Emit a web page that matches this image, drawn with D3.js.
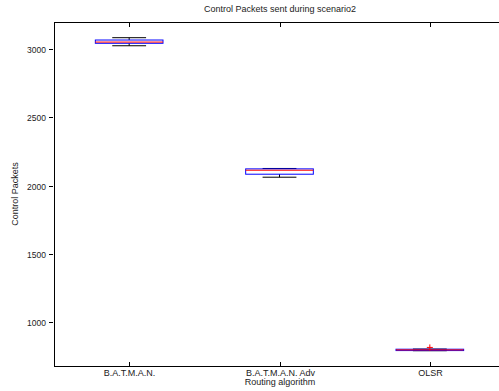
<!DOCTYPE html>
<html>
<head>
<meta charset="utf-8">
<script src="https://cdn.jsdelivr.net/npm/d3@7"></script>
<style>
  html, body { margin: 0; padding: 0; background: #fff; }
  svg { display: block; font-family: "Liberation Sans", Arial, Helvetica, sans-serif; }
</style>
</head>
<body>
<svg id="chart" width="499" height="391"></svg>
<script>
// Routing algorithms compared
const categories = ["B.A.T.M.A.N.", "B.A.T.M.A.N. Adv", "OLSR"];
// Box statistics per algorithm (control packets)
const lowerWhisker = [3024, 2061, 790];
const quartile1    = [3042, 2083, 791];
const medians      = [3051, 2112, 796];
const quartile3    = [3066, 2122, 801];
const upperWhisker = [3083, 2125, 802];
// Outliers: [algorithm index, value]
const outliers = [[2, 814]];
const yTicks = [1000, 1500, 2000, 2500, 3000];

const svg = d3.select("#chart");
const plotLeft = 54, plotRight = 505, plotTop = 22, plotBottom = 366;

const x = d3.scaleLinear().domain([0.5, 3.5]).range([plotLeft, plotRight]);
const y = d3.scaleLinear().domain([678, 3198]).range([plotBottom, plotTop]);

const boxHalf = 0.225, capHalf = 0.1125;

// Frame
svg.append("line").attr("x1", plotLeft).attr("x2", plotRight).attr("y1", plotTop + 0.5).attr("y2", plotTop + 0.5).attr("stroke", "#000");
svg.append("line").attr("x1", plotLeft).attr("x2", plotRight).attr("y1", plotBottom + 0.5).attr("y2", plotBottom + 0.5).attr("stroke", "#000");
svg.append("line").attr("x1", plotLeft + 0.5).attr("x2", plotLeft + 0.5).attr("y1", plotTop).attr("y2", plotBottom + 1).attr("stroke", "#000");

// Y axis ticks and labels
const yAxis = svg.append("g");
yTicks.forEach(t => {
  const py = Math.round(y(t)) + 0.5;
  yAxis.append("line").attr("x1", plotLeft - 5).attr("x2", plotLeft - 1).attr("y1", py).attr("y2", py).attr("stroke", "#000");
  yAxis.append("text").attr("x", plotLeft - 8).attr("y", py + 3).attr("text-anchor", "end")
    .attr("font-size", 8.5).attr("fill", "#222").text(t);
});

// X ticks (bottom and top, pointing inward) and labels
const xAxis = svg.append("g");
categories.forEach((c, i) => {
  const px = Math.round(x(i + 1)) + 0.5;
  xAxis.append("line").attr("x1", px).attr("x2", px).attr("y1", plotBottom).attr("y2", plotBottom - 4).attr("stroke", "#000");
  xAxis.append("line").attr("x1", px).attr("x2", px).attr("y1", plotTop + 1).attr("y2", plotTop + 5).attr("stroke", "#000");
  xAxis.append("text").attr("x", px).attr("y", plotBottom + 10).attr("text-anchor", "middle")
    .attr("font-size", 9).attr("fill", "#222").text(c);
});

// Boxes
const boxes = svg.append("g");
categories.forEach((c, i) => {
  const cx = x(i + 1);
  // whisker stems (dashed)
  boxes.append("line").attr("x1", cx).attr("x2", cx).attr("y1", y(quartile3[i])).attr("y2", y(upperWhisker[i]))
    .attr("stroke", "#000").attr("stroke-dasharray", "3,2");
  boxes.append("line").attr("x1", cx).attr("x2", cx).attr("y1", y(quartile1[i])).attr("y2", y(lowerWhisker[i]))
    .attr("stroke", "#000").attr("stroke-dasharray", "3,2");
  // whisker caps
  [upperWhisker[i], lowerWhisker[i]].forEach(v => {
    boxes.append("line").attr("x1", x(i + 1 - capHalf)).attr("x2", x(i + 1 + capHalf))
      .attr("y1", y(v)).attr("y2", y(v)).attr("stroke", "#000");
  });
  // box
  boxes.append("rect").attr("x", x(i + 1 - boxHalf)).attr("width", x(i + 1 + boxHalf) - x(i + 1 - boxHalf))
    .attr("y", y(quartile3[i])).attr("height", Math.max(0.1, y(quartile1[i]) - y(quartile3[i])))
    .attr("fill", "none").attr("stroke", "#0000ff");
  // median
  boxes.append("line").attr("x1", x(i + 1 - boxHalf)).attr("x2", x(i + 1 + boxHalf))
    .attr("y1", y(medians[i])).attr("y2", y(medians[i])).attr("stroke", "#ff0000");
});

// Outliers as red plus marks
outliers.forEach(([i, v]) => {
  const cx = x(i + 1), cy = y(v);
  boxes.append("path").attr("d", `M${cx - 3},${cy}H${cx + 3}M${cx},${cy - 3}V${cy + 3}`)
    .attr("stroke", "#ff0000").attr("fill", "none");
});

// Titles
svg.append("text").attr("x", 280).attr("y", 12).attr("text-anchor", "middle")
  .attr("font-size", 9).attr("fill", "#222").text("Control Packets sent during scenario2");
svg.append("text").attr("x", 280).attr("y", 385).attr("text-anchor", "middle")
  .attr("font-size", 9).attr("fill", "#222").text("Routing algorithm");
svg.append("text").attr("transform", `translate(18,${(plotTop + plotBottom) / 2}) rotate(-90)`).attr("text-anchor", "middle")
  .attr("font-size", 9).attr("fill", "#222").text("Control Packets");
</script>
</body>
</html>
